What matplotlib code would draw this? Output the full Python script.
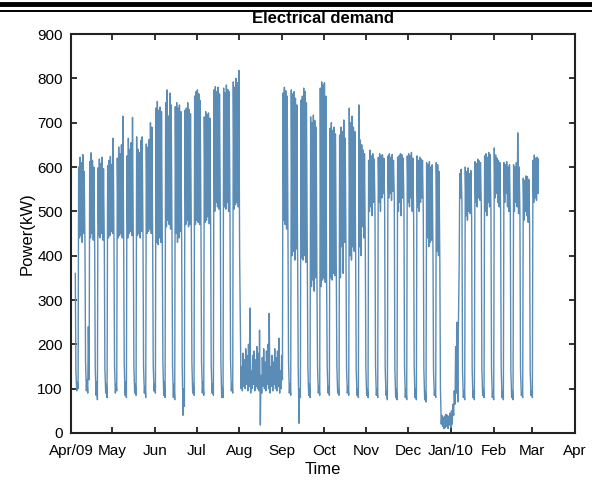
import numpy as np
import pandas as pd
import matplotlib
matplotlib.use('Agg')
import matplotlib.pyplot as plt
from matplotlib.lines import Line2D

nan = np.nan
plt.rcParams['font.family'] = ['Liberation Sans', 'DejaVu Sans']

# ---- data: daily night-time and day-time demand (kW) ----
apr_day = [nan, nan, nan, 140, 115, 600, 622, 610, 628, 590, 160, 120, 240, 612, 632, 615, 600, 150, 115, 598, 618, 608, 622, 596, 145, 110, 603, 615, 624, 606]
apr_night = [nan, nan, nan, 360, 95, 100, 440, 445, 430, 450, 420, 95, 90, 120, 440, 450, 435, 430, 85, 75, 445, 440, 450, 435, 425, 90, 80, 440, 445, 455]
may_day = [665, 150, 110, 620, 645, 630, 650, 715, 160, 115, 625, 665, 640, 655, 712, 150, 110, 668, 640, 632, 660, 668, 150, 105, 652, 645, 662, 700, 690, 155, 110]
may_night = [450, 430, 90, 95, 440, 445, 450, 440, 440, 85, 80, 440, 450, 455, 445, 440, 90, 85, 445, 450, 440, 455, 450, 90, 80, 450, 455, 460, 450, 450, 95]
jun_day = [733, 748, 728, 735, 725, 160, 115, 745, 774, 715, 767, 740, 150, 110, 736, 745, 733, 740, 725, 155, 100, 728, 733, 745, 730, 720, 160, 110, 760, 770]
jun_night = [90, 430, 425, 440, 430, 430, 85, 80, 465, 480, 470, 460, 455, 80, 75, 450, 430, 440, 455, 440, 40, 60, 470, 480, 465, 470, 460, 90, 85, 470]
jul_day = [774, 765, 750, 160, 115, 713, 725, 718, 722, 710, 155, 110, 774, 781, 770, 780, 765, 160, 105, 778, 767, 785, 775, 770, 165, 110, 792, 780, 800, 790, 818]
jul_night = [480, 475, 470, 460, 90, 85, 475, 480, 488, 472, 470, 90, 85, 500, 520, 510, 505, 500, 80, 80, 510, 505, 520, 500, 500, 95, 90, 505, 515, 520, 510]
aug_day = [280, 150, 180, 165, 190, 175, 200, 282, 140, 175, 185, 165, 195, 180, 232, 130, 170, 190, 160, 185, 200, 270, 150, 175, 160, 190, 170, 185, 214, 140, 175]
aug_night = [400, 100, 95, 105, 100, 110, 95, 105, 90, 100, 110, 95, 105, 100, 95, 18, 90, 105, 100, 95, 110, 100, 90, 105, 95, 110, 100, 95, 105, 90, 100]
sep_day = [767, 780, 772, 760, 160, 110, 774, 765, 770, 755, 740, 150, 100, 751, 760, 778, 770, 745, 150, 110, 713, 700, 717, 705, 690, 150, 105, 778, 792, 785]
sep_night = [120, 480, 470, 460, 455, 90, 85, 400, 410, 390, 415, 400, 22, 80, 395, 390, 400, 385, 380, 85, 80, 330, 345, 320, 350, 340, 90, 85, 330, 345]
oct_day = [790, 760, 150, 105, 687, 700, 683, 690, 675, 150, 100, 672, 690, 680, 706, 665, 150, 105, 733, 700, 715, 690, 680, 145, 100, 740, 661, 650, 638, 630, 145]
oct_night = [350, 340, 335, 90, 85, 350, 345, 360, 355, 350, 90, 85, 350, 420, 360, 430, 420, 90, 85, 400, 390, 420, 410, 400, 85, 80, 420, 400, 465, 440, 430]
nov_day = [100, 615, 638, 625, 630, 618, 150, 100, 622, 630, 625, 628, 620, 145, 95, 625, 630, 622, 628, 615, 145, 100, 622, 625, 630, 628, 620, 150, 100, 625]
nov_night = [85, 80, 500, 510, 490, 520, 510, 85, 80, 520, 500, 530, 540, 520, 85, 75, 530, 540, 525, 545, 530, 80, 75, 500, 520, 490, 530, 510, 80, 75]
dec_day = [630, 625, 633, 620, 150, 100, 625, 615, 622, 618, 615, 145, 95, 610, 605, 612, 600, 605, 140, 95, 610, 605, 590, 100, 40, 35, 38, 42, 40, 38, 45]
dec_night = [520, 510, 530, 500, 490, 80, 75, 510, 500, 520, 530, 500, 75, 70, 440, 420, 430, 435, 420, 85, 80, 410, 400, 380, 20, 15, 10, 12, 15, 10, 18]
jan_day = [50, 65, 95, 195, 250, 240, 585, 595, 140, 95, 600, 590, 598, 585, 592, 140, 95, 612, 608, 618, 614, 610, 145, 100, 625, 630, 622, 633, 628, 145, 95]
jan_night = [12, 20, 40, 65, 90, 70, 380, 530, 520, 80, 75, 490, 480, 500, 495, 490, 80, 75, 520, 510, 530, 525, 515, 85, 80, 500, 490, 520, 510, 500, 80]
feb_day = [643, 627, 620, 615, 610, 145, 95, 610, 605, 612, 600, 605, 140, 95, 605, 600, 610, 677, 600, 140, 90, 575, 570, 580, 578, 572, 140, 95]
feb_night = [75, 530, 540, 520, 510, 500, 80, 75, 520, 540, 510, 500, 500, 80, 75, 500, 520, 510, 495, 490, 85, 80, 480, 500, 490, 475, 470, 85]
mar_day = [615, 627, 620, 622, 618]
mar_night = [80, 520, 530, 525, 540]

month_starts = ['2009-04-01', '2009-05-01', '2009-06-01', '2009-07-01', '2009-08-01', '2009-09-01',
                '2009-10-01', '2009-11-01', '2009-12-01', '2010-01-01', '2010-02-01', '2010-03-01']
month_night = [apr_night, may_night, jun_night, jul_night, aug_night, sep_night,
               oct_night, nov_night, dec_night, jan_night, feb_night, mar_night]
month_day = [apr_day, may_day, jun_day, jul_day, aug_day, sep_day,
             oct_day, nov_day, dec_day, jan_day, feb_day, mar_day]

tick_dates = ['2009-04-01', '2009-05-01', '2009-06-01', '2009-07-01', '2009-08-01', '2009-09-01',
              '2009-10-01', '2009-11-01', '2009-12-01', '2010-01-01', '2010-02-01', '2010-03-01',
              '2010-04-01']
tick_labels = ['Apr/09', 'May', 'Jun', 'Jul', 'Aug', 'Sep', 'Oct', 'Nov', 'Dec', 'Jan/10', 'Feb', 'Mar', 'Apr']
y_ticks = [0, 100, 200, 300, 400, 500, 600, 700, 800, 900]

# ---- build the time series ----
times, values = [], []
for start, nights, days in zip(month_starts, month_night, month_day):
    dates = pd.date_range(start, periods=len(nights), freq='D')
    for d, n, v in zip(dates, nights, days):
        times.append(d + pd.Timedelta(hours=3)); values.append(n)
        times.append(d + pd.Timedelta(hours=13)); values.append(v)
times = pd.to_datetime(times)
values = np.array(values, dtype=float)

W, H = 592, 482
fig = plt.figure(figsize=(W / 100, H / 100), dpi=100)
ax = fig.add_axes([71 / W, 1 - 433 / H, 504 / W, 399 / H])

ax.plot(times, values, color='#5b8cb6', lw=1.0)

ax.set_xlim(pd.Timestamp(tick_dates[0]), pd.Timestamp(tick_dates[-1]))
ax.set_ylim(0, 900)
ax.set_xticks(pd.to_datetime(tick_dates))
ax.set_xticklabels(tick_labels)
ax.set_yticks(y_ticks)
ax.tick_params(direction='in', length=4, width=1.3, labelsize=11,
               top=True, right=True, colors='#222222', labelcolor='black')
ax.tick_params(axis='x', pad=8)
ax.tick_params(axis='y', pad=6)
for s in ax.spines.values():
    s.set_linewidth(1.5)
    s.set_color('#222222')

ax.set_title('Electrical demand', fontweight='bold', fontsize=12, pad=8)
ax.set_xlabel('Time', fontsize=12, labelpad=3)
ax.set_ylabel('Power(kW)', fontsize=12, labelpad=2)

# header rules at the top of the page
fig.add_artist(Line2D([0, 1], [1 - 4.3 / H, 1 - 4.3 / H], transform=fig.transFigure, color='black', lw=3.5))
fig.add_artist(Line2D([0, 1], [1 - 11.3 / H, 1 - 11.3 / H], transform=fig.transFigure, color='black', lw=1.4))

fig.savefig('out.png', dpi=100)
